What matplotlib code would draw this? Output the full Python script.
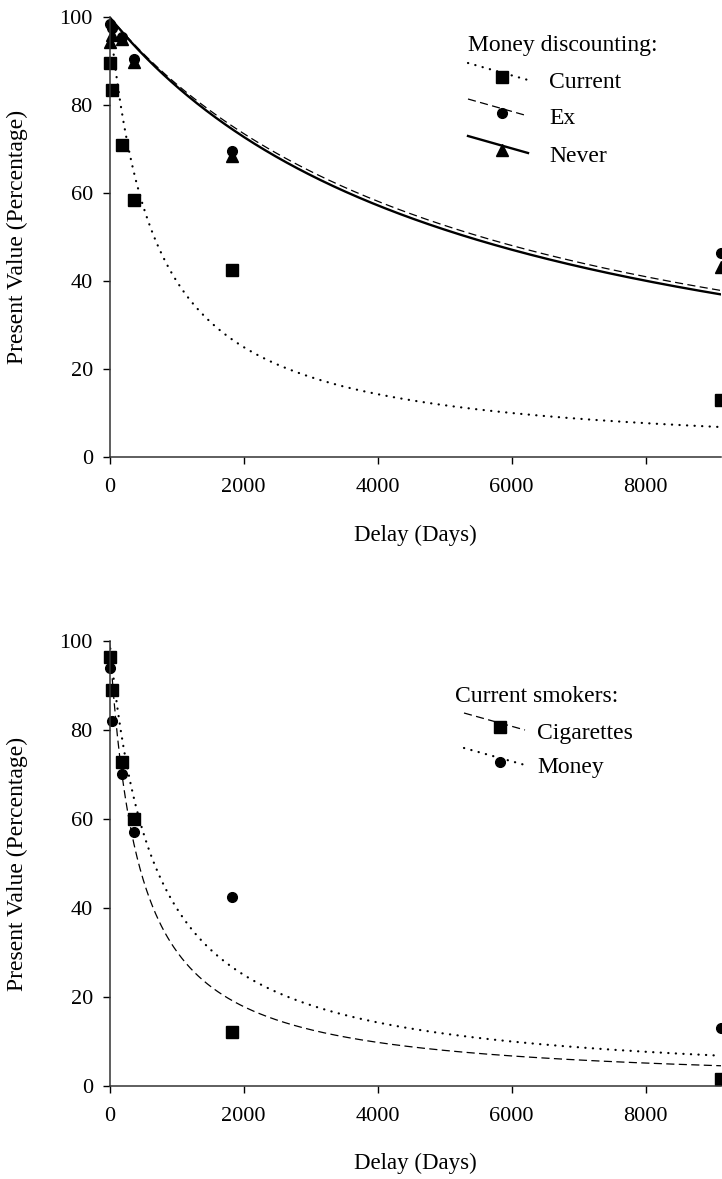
import numpy as np
import matplotlib
matplotlib.use("Agg")
import matplotlib.pyplot as plt

plt.rcParams["font.family"] = ["Liberation Serif", "DejaVu Serif"]
plt.rcParams["font.size"] = 16

# Delays (days) at which present value was measured
delays = [7, 30, 183, 365, 1825, 9125]

# Panel A: money discounting by smoking status (% of delayed amount)
current_money = [89.5, 83.5, 70.8, 58.3, 42.6, 13.0]
ex_money = [98.5, 97.5, 95.5, 90.5, 69.6, 46.3]
never_money = [94.4, 96.0, 95.0, 89.8, 68.4, 43.2]

# Panel B: current smokers, cigarettes vs money
smokers_cigs = [96.5, 89.1, 72.9, 60.1, 12.2, 1.5]
smokers_money = [93.9, 82.1, 70.1, 57.1, 42.5, 13.0]

# Fitted hyperbolic discount rates, V = 100 / (1 + k D)
k_current = 1.5e-3
k_ex = 1.80e-4
k_never = 1.87e-4
k_cigs = 2.3e-3
k_money = 1.5e-3

x_ticks = [0, 2000, 4000, 6000, 8000]
y_ticks = [0, 20, 40, 60, 80, 100]
x_max = 9125

W, H = 722, 1179
fig = plt.figure(figsize=(W / 100, H / 100), dpi=100)

left = 109.5 / W
width = (721 - 109.5) / W
ax1 = fig.add_axes([left, 1 - 457 / H, width, 440 / H])
ax2 = fig.add_axes([left, 1 - 1086 / H, width, 445 / H])

D = np.linspace(0, x_max, 600)


def hyperbola(k):
    return 100.0 / (1.0 + k * D)


dot_style = dict(color="black", lw=1.6, linestyle=(0, (0.1, 3.3)),
                 dash_capstyle="round")
dash_style = dict(color="black", lw=0.9, linestyle=(0, (6.5, 3.5)))
solid_style = dict(color="black", lw=1.7, linestyle="-")

sq = dict(marker="s", ms=8.4, color="black", ls="none", clip_on=False)
ci = dict(marker="o", ms=7.0, color="black", ls="none", clip_on=False)
tr = dict(marker="^", ms=8.0, color="black", ls="none", clip_on=False)

# ---- Panel A ----
ax1.plot(D, hyperbola(k_current), **dot_style)
ax1.plot(D, hyperbola(k_ex), **dash_style)
ax1.plot(D, hyperbola(k_never), **solid_style)
ax1.plot(delays, never_money, **tr)
ax1.plot(delays, ex_money, **ci)
ax1.plot(delays, current_money, **sq)

# ---- Panel B ----
ax2.plot(D, hyperbola(k_money), **dot_style)
ax2.plot(D, hyperbola(k_cigs), **dash_style)
ax2.plot(delays, smokers_money, **ci)
ax2.plot(delays, smokers_cigs, **sq)

for ax, h_px, xlab_y in ((ax1, 440.0, 535 - 457), (ax2, 445.0, 1163 - 1086)):
    ax.set_xlim(0, x_max)
    ax.set_ylim(0, 100)
    ax.set_xticks(x_ticks)
    ax.set_yticks(y_ticks)
    for side in ("top", "right"):
        ax.spines[side].set_visible(False)
    for side in ("left", "bottom"):
        ax.spines[side].set_color("#333333")
        ax.spines[side].set_linewidth(1.1)
    ax.tick_params(direction="out", length=5, width=1.0, color="black",
                   labelsize=16)
    ax.tick_params(axis="x", pad=10)
    ax.tick_params(axis="y", pad=7)
    ax.set_xlabel("Delay (Days)", fontsize=16.5, va="center")
    ax.xaxis.set_label_coords(0.5, -xlab_y / h_px)
    ax.set_ylabel("Present Value (Percentage)", fontsize=17, va="center")
    ax.yaxis.set_label_coords((17 - 109.5) / 611.5, 0.5)


def legend_entry(ax, text, y_text, x0, x1, xm, line_kw, mark_kw, x_text,
                 drop, rise, mdy, height_px):
    """Slanted line sample with a centred marker, then the label."""
    f = 1.0 / height_px
    ax.plot([x0, x1], [y_text + drop * f, y_text - rise * f],
            transform=ax.transAxes, clip_on=False, **line_kw)
    m = dict(mark_kw)
    m.pop("clip_on", None)
    ax.plot([xm], [y_text + mdy * f], transform=ax.transAxes,
            clip_on=False, **m)
    ax.text(x_text, y_text, text, transform=ax.transAxes,
            ha="left", va="center", fontsize=17)


def ax_x(px):
    return (px - 109.5) / 611.5


# Legend for panel A
h1 = 440.0
ax1.text(ax_x(468), (457 - 46) / h1, "Money discounting:",
         transform=ax1.transAxes, ha="left", va="center", fontsize=17)
for label, ty, lk, mk in [("Current", 83, dot_style, sq),
                          ("Ex", 119, dash_style, ci),
                          ("Never", 156, solid_style, tr)]:
    legend_entry(ax1, label, (457 - ty) / h1, ax_x(468), ax_x(528),
                 ax_x(502), lk, mk, ax_x(549), 20, -3, 6, h1)

# Legend for panel B
h2 = 445.0
ax2.text(ax_x(455), (1086 - 696) / h2, "Current smokers:",
         transform=ax2.transAxes, ha="left", va="center", fontsize=17)
for label, ty, lk, mk in [("Cigarettes", 733, dash_style, sq),
                          ("Money", 768, dot_style, ci)]:
    legend_entry(ax2, label, (1086 - ty) / h2, ax_x(464), ax_x(525),
                 ax_x(500), lk, mk, ax_x(537), 20, -3, 6, h2)

fig.savefig("out.png", dpi=100)
